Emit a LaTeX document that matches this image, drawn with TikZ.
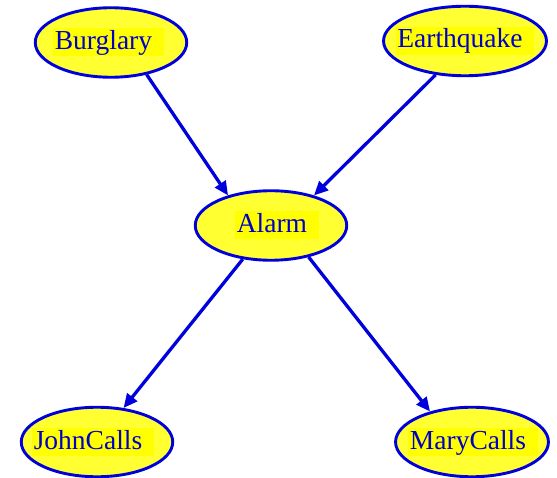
\documentclass[tikz,border=0pt]{standalone}
\usepackage{fontspec}
\setmainfont{Liberation Serif}
\usetikzlibrary{shapes.geometric,arrows.meta}

\definecolor{edgeblue}{RGB}{0,0,220}
\definecolor{labelblue}{RGB}{0,0,200}
\definecolor{nodefill}{RGB}{255,255,50}
\definecolor{hl}{RGB}{255,255,0}

% #1: twice the horizontal offset of the label (pt), #2: label text,
% set on a yellow highlight strip that runs on past the word
\newcommand\hltext[2]{\kern#1pt\setbox0\hbox{#2}%
  \rlap{\kern-1.5pt\color{hl}\vrule height 21pt depth 7pt width \dimexpr\wd0+13pt\relax}%
  \box0}

\tikzset{
  var/.style={ellipse, draw=edgeblue, line width=2.9pt, fill=nodefill,
    minimum width=151.5pt, minimum height=69.5pt, inner sep=0pt,
    text=labelblue, font=\fontsize{27.5}{31}\selectfont},
  link/.style={draw=edgeblue, line width=3.3pt,
    -{Triangle[length=14pt,width=12.5pt]}}
}

\begin{document}
\begin{tikzpicture}[x=1pt,y=-1pt]
\useasboundingbox (0,0) rectangle (557,478);

\node[var] (burglary)   at (111,42.5)  {\hltext{-15}{Burglary}};
\node[var] (earthquake) at (465,41)    {\hltext{-10}{Earthquake}};
\node[var] (alarm)      at (271,225.5) {\hltext{2}{Alarm}};
\node[var] (john)       at (97,442)    {\hltext{-18}{JohnCalls}};
\node[var] (mary)       at (472,442)   {\hltext{-8}{MaryCalls}};

\draw[link] (burglary.-42.5)    -- (alarm.145);
\draw[link] (earthquake.-131.6) -- (alarm.35.5);
\draw[link] (alarm.-130.6)      -- (john.52.7);
\draw[link] (alarm.-40.1)       -- (mary.144.2);
\end{tikzpicture}
\end{document}
